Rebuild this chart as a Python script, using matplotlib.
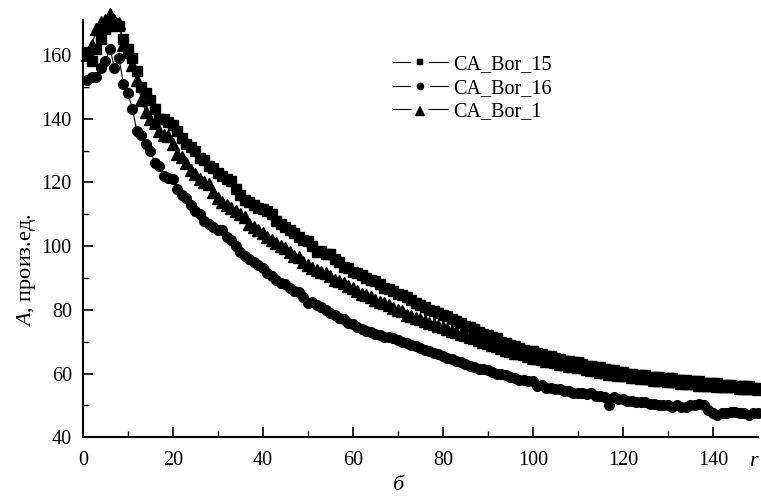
import numpy as np
import matplotlib
matplotlib.use("Agg")
import matplotlib.pyplot as plt
from matplotlib.lines import Line2D
from matplotlib.ticker import FixedLocator

plt.rcParams['font.family'] = ['Liberation Serif', 'DejaVu Serif']
plt.rcParams['mathtext.fontset'] = 'custom'
plt.rcParams['mathtext.it'] = 'Liberation Serif:italic'
plt.rcParams['mathtext.rm'] = 'Liberation Serif'

r = np.arange(1, 151)

bor_15 = [161, 158, 162, 165, 168, 169, 170, 169, 165, 162,
          159, 155, 150, 148, 146, 143, 140, 140, 139, 138,
          136, 134, 132, 131, 130, 127.5, 127, 125, 124.5, 123,
          122, 121, 120.5, 118, 116, 114.5, 114, 113, 112, 111.5,
          111, 110, 108, 107, 106, 105, 104, 103, 102, 101.5,
          100, 98, 98.5, 97.5, 97.5, 96, 95, 93.5, 93, 92,
          91.5, 91, 90, 89.5, 89, 88, 87, 86.5, 86, 85,
          84.5, 84, 83, 82, 81.5, 81, 80, 79.5, 79, 78.5,
          78, 77, 76.5, 76, 75, 74.5, 74, 73, 72.5, 72,
          71.5, 71, 70, 69.5, 69, 68.5, 68, 67.5, 67, 67,
          66.5, 66, 65.5, 65.5, 65, 64.5, 64, 64, 63.5, 63.5,
          63, 62.5, 62.5, 62, 62, 61.5, 61, 61, 60.5, 60.5,
          60, 60, 59.5, 59.5, 59.5, 59, 59, 59, 58.5, 58.5,
          58.5, 58, 58, 58, 57.5, 57.5, 57.5, 57, 57, 57,
          57, 56.5, 56.5, 56.5, 56, 56, 56, 56, 55.5, 55.5]

bor_16 = [152, 153, 153, 156, 158, 162, 156, 159, 151, 148,
          143, 136, 135, 132, 130, 126, 125, 122, 121.5, 121,
          118, 116, 115, 113, 111, 110, 108, 107, 106, 105,
          105, 103, 102, 100, 98, 97, 96, 95, 94, 93,
          91.5, 90.5, 89.5, 88.5, 88, 87, 86, 85.5, 84, 82,
          82.5, 81.5, 81, 80, 79, 78.5, 77.5, 77, 76, 75.5,
          74.5, 74, 73.5, 73, 72.5, 72, 71.5, 71.5, 71, 70.5,
          70, 69.5, 69, 68.5, 68, 67.5, 67, 66.5, 66, 65.5,
          65, 64.5, 64, 63.5, 63, 62.5, 62, 61.5, 61.5, 61,
          60.5, 60, 60, 59.5, 59, 58.5, 58, 58, 57.5, 57.5,
          56, 56.5, 55.5, 55.5, 55, 55, 54.5, 54.5, 54, 54,
          54, 53.5, 54, 53, 53, 52.5, 50, 52.5, 52, 52,
          51.5, 51.5, 51, 51, 51, 50.5, 50.5, 50, 50, 50,
          49.5, 50, 49.5, 49.5, 50, 50, 50.5, 50, 48.5, 47.5,
          47, 47.5, 47.5, 48, 48, 47.5, 47.5, 47, 47.5, 47.5]

bor_1 = [160, 163, 168, 170.5, 171, 173, 171, 170, 163, 161,
         157, 152, 146, 142, 140, 138.5, 136, 135, 134.5, 132,
         129, 128, 126, 124, 122.5, 121, 120, 119.5, 117, 115,
         114, 113, 112, 111, 110, 109, 107, 106, 105, 104,
         103, 102, 101, 100, 99.5, 98, 97, 96.5, 95, 94,
         93, 92.5, 92, 91.5, 90.5, 89.5, 89, 88.5, 87.5, 87,
         86, 85, 84.5, 84, 83, 82.5, 82, 81.5, 80.5, 80,
         79.5, 78.5, 78, 77.5, 77, 76.5, 76, 75.5, 75, 74.5,
         74, 73.5, 73, 72.5, 72, 71.5, 71, 70.5, 70, 69.5,
         69, 68.5, 68, 67.5, 67, 66.5, 66.5, 66, 65.5, 65,
         65, 64.5, 64, 64, 63.5, 63, 63, 62.5, 62.5, 62,
         62, 61.5, 61, 61, 60.5, 60.5, 60, 60, 59.5, 59.5,
         59.5, 59, 59, 58.5, 58.5, 58.5, 58, 58, 58, 57.5,
         57.5, 57.5, 57, 57, 57, 57, 56.5, 56.5, 56.5, 56.5,
         56, 56, 56, 56, 56, 55.5, 55.5, 55.5, 55.5, 55]

labels = ['CA_Bor_15', 'CA_Bor_16', 'CA_Bor_1']
x_ticks = [0, 20, 40, 60, 80, 100, 120, 140]
y_ticks = [40, 60, 80, 100, 120, 140, 160]

fig = plt.figure(figsize=(7.61, 4.98), dpi=100)
ax = fig.add_axes([0.109, 0.122, 0.887, 0.838])

ax.plot(r, bor_15, color='black', lw=0.8, marker='s', ms=6.5, mfc='black', mec='black', clip_on=False)
ax.plot(r, bor_16, color='black', lw=0.8, marker='o', ms=7, mfc='black', mec='black', clip_on=False)
ax.plot(r, bor_1, color='black', lw=0.8, marker='^', ms=8.5, mfc='black', mec='black', clip_on=False)

ax.set_xlim(0, 150)
ax.set_ylim(40, 171)
ax.xaxis.set_major_locator(FixedLocator(x_ticks))
ax.xaxis.set_minor_locator(FixedLocator([10, 30, 50, 70, 90, 110, 130]))
ax.yaxis.set_major_locator(FixedLocator(y_ticks))
ax.yaxis.set_minor_locator(FixedLocator([50, 70, 90, 110, 130, 150]))
ax.tick_params(which='major', direction='in', length=7, width=1.2, labelsize=14.5)
ax.tick_params(axis='x', which='major', pad=10)
ax.tick_params(axis='y', which='major', pad=8)
ax.tick_params(which='minor', direction='in', length=4, width=1.0)
for s in ['top', 'right']:
    ax.spines[s].set_visible(False)
for s in ['left', 'bottom']:
    ax.spines[s].set_linewidth(1.5)

ax.set_ylabel(r'$\mathit{A}$, произ.ед.', fontsize=16)
ax.yaxis.set_label_coords(-0.066, 0.40)
fig.text(0.991, 0.073, r'$\mathit{r}$', fontsize=16, ha='center', va='center')
fig.text(0.523, 0.026, 'б', fontsize=16, style='italic', ha='center', va='center')

handles = [
    Line2D([], [], color='black', lw=0.8, marker='s', ms=9, mfc='black', mec='white', mew=4),
    Line2D([], [], color='black', lw=0.8, marker='o', ms=9.5, mfc='black', mec='white', mew=4),
    Line2D([], [], color='black', lw=0.8, marker='^', ms=14, mfc='black', mec='white', mew=4),
]
ax.legend(handles, labels, loc='upper left', bbox_to_anchor=(0.459, 0.915), frameon=False,
          fontsize=14.5, handlelength=2.75, handletextpad=0.25, labelspacing=0.2,
          borderaxespad=0, borderpad=0)

fig.savefig('out.png', dpi=100)
